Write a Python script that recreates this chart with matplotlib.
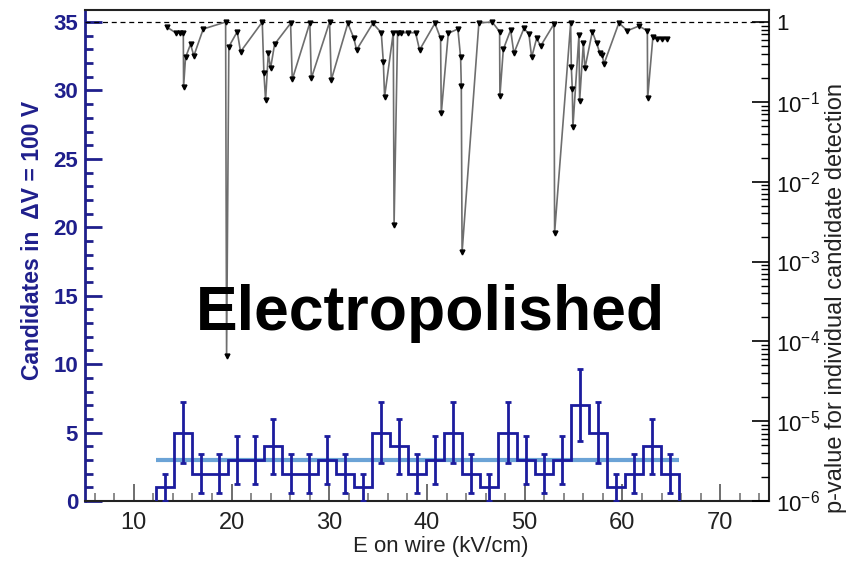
import matplotlib
matplotlib.use("Agg")
import matplotlib.pyplot as plt
import numpy as np
from matplotlib.ticker import MultipleLocator, LogLocator, NullFormatter, FixedLocator

plt.rcParams["font.family"] = ["Liberation Sans", "DejaVu Sans"]
plt.rcParams["mathtext.fontset"] = "custom"
plt.rcParams["mathtext.rm"] = "Liberation Sans"
plt.rcParams["mathtext.it"] = "Liberation Sans:italic"
plt.rcParams["mathtext.bf"] = "Liberation Sans:bold"

# candidate counts per 100 V slice of wire voltage
counts = [1, 5, 2, 2, 3, 3, 4, 2, 2, 3, 2, 1, 5, 4, 2,
          3, 5, 2, 1, 5, 3, 2, 3, 7, 5, 1, 2, 4, 2]
bin_lo = 12.3        # kV/cm
bin_width = 1.843    # kV/cm
mean_rate = 3.0

# local-excess scan: field position and p-value
scan_e = [13.42, 14.27, 14.71, 15.06, 15.09, 15.29, 15.80, 16.14, 17.10,
          19.39, 19.49, 19.72, 20.58, 20.92, 23.14, 23.31, 23.48, 23.76,
          23.99, 24.40, 26.04, 26.21, 28.01, 28.16, 30.03, 30.20, 31.90,
          32.52, 32.79, 34.46, 35.32, 35.53, 35.66, 36.55, 36.63, 36.99,
          37.30, 38.01, 38.83, 39.24, 40.81, 41.39, 41.46, 42.18, 43.16,
          43.44, 43.51, 43.59, 45.31, 46.68, 47.43, 47.46, 47.81, 48.56,
          48.89, 49.92, 50.43, 50.71, 51.22, 51.63, 52.99, 53.06, 54.70,
          54.77, 54.87, 54.93, 55.55, 55.62, 56.00, 56.16, 56.92, 57.36,
          57.70, 57.94, 58.11, 59.64, 60.50, 61.69, 62.55, 62.58, 63.12,
          63.57, 64.08, 64.59]
scan_p = [0.859, 0.735, 0.723, 0.735, 0.155, 0.361, 0.526, 0.378, 0.818,
          1.0, 6.6e-5, 0.491, 0.757, 0.425, 1.0, 0.228, 0.105, 0.406,
          0.263, 0.526, 0.964, 0.191, 0.977, 0.197, 1.0, 0.188, 0.964,
          0.625, 0.447, 0.964, 0.735, 0.318, 0.116, 0.735, 2.9e-3, 0.735,
          0.735, 0.735, 0.735, 0.447, 0.964, 0.625, 0.072, 0.723, 0.818,
          0.361, 0.159, 1.3e-3, 0.977, 1.0, 0.757, 0.118, 0.455, 0.794,
          0.406, 0.834, 0.708, 0.361, 0.625, 0.501, 0.944, 2.3e-3, 0.964,
          0.271, 0.144, 0.048, 0.687, 0.103, 0.541, 0.263, 0.757, 0.541,
          0.406, 0.386, 0.298, 0.977, 0.778, 0.891, 0.778, 0.111, 0.655,
          0.607, 0.607, 0.607]

HIST_BLUE = "#1c1c9e"
AXIS_BLUE = "#1f1f8c"
MEAN_BLUE = "#6ba3d6"

counts = np.array(counts, dtype=float)
edges = bin_lo + bin_width * np.arange(len(counts) + 1)
centers = 0.5 * (edges[:-1] + edges[1:])

fig = plt.figure(figsize=(8.48, 5.62), dpi=100)
ax = fig.add_axes([85 / 848, 1 - 501 / 562, 684 / 848, 491 / 562])

y_top = 35.88
ax.set_xlim(5, 75)
ax.set_ylim(0, y_top)

ax.stairs(counts, edges, baseline=0, color=HIST_BLUE, lw=2, zorder=4)
ax.errorbar(centers, counts, yerr=np.sqrt(counts), fmt="none",
            ecolor=HIST_BLUE, elinewidth=2, capsize=2.5, capthick=2, zorder=4)
ax.hlines(mean_rate, edges[0], edges[-1], color=MEAN_BLUE, lw=3, zorder=3)

# left axis in candidate counts
ax.yaxis.set_major_locator(MultipleLocator(5))
ax.yaxis.set_minor_locator(MultipleLocator(1))
ax.xaxis.set_major_locator(MultipleLocator(10))
ax.xaxis.set_minor_locator(MultipleLocator(2))
ax.tick_params(axis="y", which="major", direction="in", length=12, width=2,
               color=AXIS_BLUE, labelcolor=AXIS_BLUE, labelsize=16, pad=5)
ax.tick_params(axis="y", which="minor", direction="in", length=6, width=2,
               color=AXIS_BLUE)
for lab in ax.get_yticklabels():
    lab.set_fontweight("bold")
ax.tick_params(axis="x", which="major", direction="in", length=12, width=1.2,
               color="#555555", labelsize=17, labelcolor="#222222", pad=8)
ax.tick_params(axis="x", which="minor", direction="in", length=6, width=1.2,
               color="#777777")
ax.set_xlabel("E on wire (kV/cm)", fontsize=16, color="#222222")
ax.xaxis.set_label_coords(0.52, -0.072)
ax.set_ylabel("Candidates in  \u0394V = 100 V", fontsize=16.5, color=AXIS_BLUE,
              fontweight="bold")
ax.yaxis.set_label_coords(-0.060, 0.53)
ax.spines["left"].set_color(AXIS_BLUE)
ax.spines["left"].set_linewidth(2)
for s in ("bottom", "top", "right"):
    ax.spines[s].set_color("#222222")
    ax.spines[s].set_linewidth(1.5)

# right axis: p-value on a log scale, 1 aligned with 35 counts
ax2 = ax.twinx()
ax2.set_yscale("log")
ax2.set_ylim(1e-6, 10 ** (6 * y_top / 35 - 6))
ax2.axhline(1.0, color="black", lw=0.9, ls=(0, (4, 3)), zorder=1)
ax2.plot(scan_e, scan_p, color="#6e6e6e", lw=1.2, zorder=5)
ax2.plot(scan_e, scan_p, ls="none", marker="v", ms=3.5, color="black", zorder=6)

ax2.yaxis.set_major_locator(FixedLocator([1e-6, 1e-5, 1e-4, 1e-3, 1e-2, 1e-1, 1]))
ax2.yaxis.set_minor_locator(LogLocator(base=10, subs=np.arange(2, 10)))
ax2.yaxis.set_minor_formatter(NullFormatter())
ax2.set_yticklabels(["$10^{-6}$", "$10^{-5}$", "$10^{-4}$", "$10^{-3}$",
                     "$10^{-2}$", "$10^{-1}$", "1"])
ax2.tick_params(axis="y", which="major", direction="in", length=12, width=1.2,
                labelsize=16, labelcolor="#111111", pad=5)
ax2.tick_params(axis="y", which="minor", direction="in", length=6, width=1)
for s in ax2.spines.values():
    s.set_visible(False)

# right-hand axis title, pushed against the figure edge
fig.text(847 / 848, 0.47, "p-value for individual candidate detection",
         rotation=90, fontsize=17, color="#222222", ha="right", va="center")

fig.text(0.508, 0.442, "Electropolished", fontsize=45, fontweight="bold",
         ha="center", va="center", color="black")

fig.savefig("out.png", dpi=100)
